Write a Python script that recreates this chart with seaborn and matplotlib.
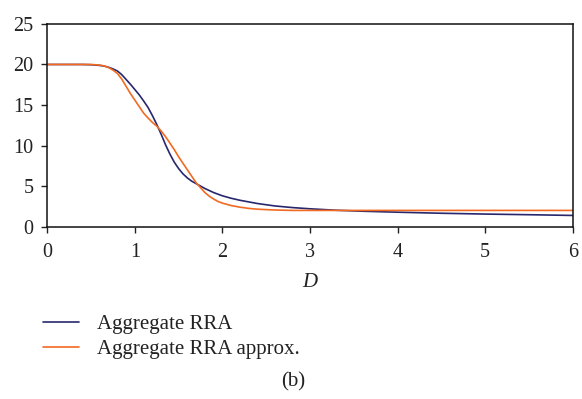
import matplotlib
matplotlib.use("Agg")
import matplotlib.pyplot as plt
import seaborn as sns
import pandas as pd

# values
d_rra = [0, 0.2, 0.4, 0.5, 0.6, 0.65, 0.7, 0.75, 0.8, 0.85, 0.9, 0.95, 1.0, 1.05, 1.1,
         1.15, 1.2, 1.25, 1.3, 1.35, 1.4, 1.45, 1.5, 1.55, 1.6, 1.65, 1.7, 1.75, 1.8,
         1.9, 2.0, 2.1, 2.2, 2.4, 2.6, 2.8, 3.0, 3.3, 3.6, 4.0, 4.5, 5.0, 5.5, 6.0]
rra = [20, 20, 20, 19.97, 19.88, 19.8, 19.65, 19.45, 19.2, 18.75, 18.15, 17.55, 16.9, 16.25, 15.5,
       14.7, 13.7, 12.6, 11.4, 10.1, 8.95, 7.95, 7.15, 6.5, 6.0, 5.6, 5.3, 5.0, 4.7,
       4.2, 3.8, 3.5, 3.25, 2.85, 2.55, 2.35, 2.2, 2.02, 1.9, 1.78, 1.65, 1.55, 1.47, 1.38]

d_approx = [0, 0.2, 0.4, 0.5, 0.6, 0.65, 0.7, 0.75, 0.8, 0.85, 0.9, 0.95, 1.0, 1.05, 1.1,
            1.15, 1.2, 1.25, 1.3, 1.35, 1.4, 1.45, 1.5, 1.55, 1.6, 1.65, 1.7, 1.75, 1.8,
            1.85, 1.9, 1.95, 2.0, 2.1, 2.2, 2.3, 2.4, 2.6, 2.8, 3.0, 3.5, 4.0, 5.0, 6.0]
rra_approx = [20, 20, 20, 20, 19.92, 19.82, 19.62, 19.3, 18.9, 18.2, 17.3, 16.4, 15.6, 14.8, 14.0,
              13.4, 12.85, 12.4, 11.8, 11.1, 10.3, 9.5, 8.6, 7.8, 7.0, 6.2, 5.4, 4.8, 4.2,
              3.75, 3.4, 3.1, 2.9, 2.6, 2.4, 2.25, 2.15, 2.05, 2.0, 2.0, 2.0, 2.0, 2.0, 2.0]

labels = ["Aggregate RRA", "Aggregate RRA approx."]
colors = ["#27276e", "#f26a21"]

df = pd.concat([
    pd.DataFrame({"D": d_rra, "value": rra, "series": labels[0]}),
    pd.DataFrame({"D": d_approx, "value": rra_approx, "series": labels[1]}),
])

sns.set_style("ticks")
plt.rcParams["font.family"] = ["Liberation Serif", "DejaVu Serif"]

fig = plt.figure(figsize=(5.82, 3.99), dpi=100)
ax = fig.add_axes([0.0813, 0.432, 0.9027, 0.508])

sns.lineplot(data=df, x="D", y="value", hue="series", palette=colors,
             linewidth=1.2, ax=ax, legend=False, sort=True)

ax.set_xlim(0, 6)
ax.set_ylim(0, 25)
ax.set_xticks(range(0, 7))
ax.set_yticks(range(0, 26, 5))
ax.tick_params(direction="out", length=4, width=1, labelsize=14.5, colors="#222222")
ax.tick_params(axis="x", pad=8)
ax.tick_params(axis="y", pad=6)
for sp in ax.spines.values():
    sp.set_linewidth(1.1)
    sp.set_color("#111111")
ax.set_xlabel("D", fontstyle="italic", fontsize=15, labelpad=8, color="#222222")
ax.set_ylabel("")

handles = [plt.Line2D([], [], color=c, linewidth=1.2) for c in colors]
fig.legend(handles, labels, loc="upper left", bbox_to_anchor=(0.0739, 0.211),
           frameon=False, fontsize=15, handlelength=1.73, handletextpad=0.87,
           labelspacing=0.25, borderpad=0, borderaxespad=0, labelcolor="#222222")

fig.text(0.503, 0.042, "(b)", ha="center", va="center", fontsize=15, color="#222222")

fig.savefig("out.png", dpi=100)
